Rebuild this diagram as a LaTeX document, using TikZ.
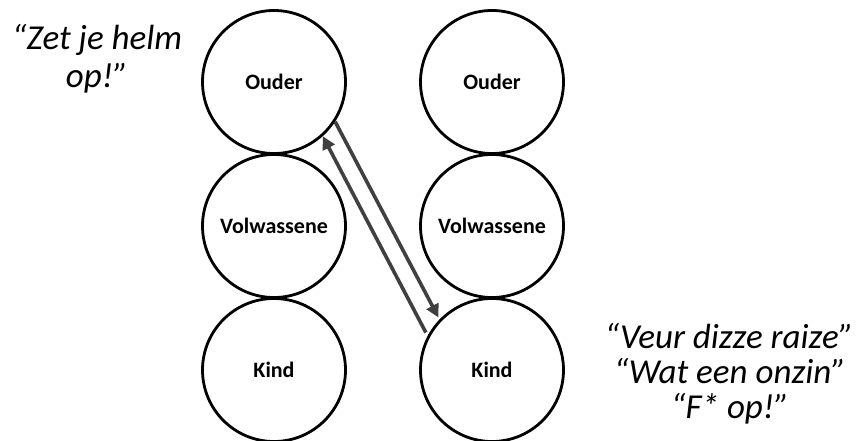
\documentclass[tikz,border=0pt]{standalone}
\usepackage{fontspec}
\setmainfont{Carlito}
\usetikzlibrary{arrows.meta}
\begin{document}
\begin{tikzpicture}[x=1pt,y=-1pt,
  stage/.style={circle,draw=black,line width=2.8pt,minimum size=143pt,inner sep=0pt,
    font=\fontsize{22}{24}\selectfont\bfseries},
  quote/.style={anchor=base,inner sep=0pt,font=\fontsize{35}{38}\selectfont\itshape},
  flow/.style={draw=black!75,line width=3.6pt,-{Triangle[length=13pt,width=13pt]}}]
\useasboundingbox (0,0) rectangle (858,441);
\node[stage] (oL) at (274,82) {Ouder};
\node[stage] (vL) at (274,226) {Volwassene};
\node[stage] (kL) at (274,370) {Kind};
\node[stage] (oR) at (492,82) {Ouder};
\node[stage] (vR) at (492,226) {Volwassene};
\node[stage] (kR) at (492,370) {Kind};
\draw[flow] (oL.-33) -- ([shift={(-2,-1)}]kR.135);
\draw[flow] ([shift={(-3,-1)}]kR.150) -- (oL.-48);
\node[quote] (qa) at (97,50) {“Zet je helm};
\node[quote] (qb) at (97,88) {op!”};
\node[quote] (qc) at (729,348) {“Veur dizze raize”};
\node[quote] (qd) at (730,383) {“Wat een onzin”};
\node[quote] (qe) at (730,418) {“F* op!”};
\end{tikzpicture}
\end{document}
